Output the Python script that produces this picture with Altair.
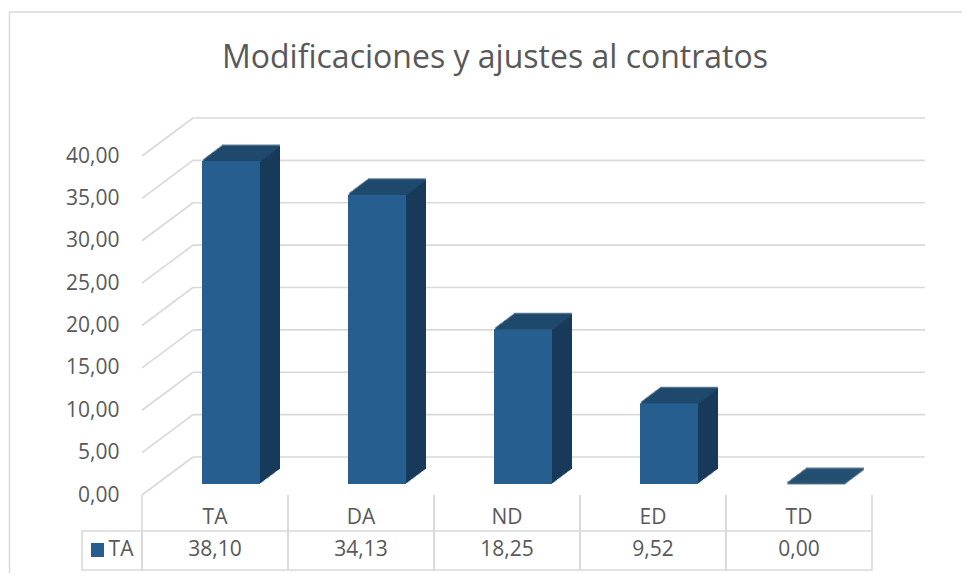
import altair as alt
import pandas as pd

TITLE = "Modificaciones y ajustes al contratos"
categories = ["TA", "DA", "ND", "ED", "TD"]
values = [38.10, 34.13, 18.25, 9.52, 0.00]
series_name = "TA"
y_ticks = [0, 5, 10, 15, 20, 25, 30, 35, 40]

FRONT = "#255E8F"
TOP = "#1F4A6E"
SIDE = "#183A5A"
GRID = "#D9D9D9"
TEXT = "#595959"
FONT = "Open Sans"

df = pd.DataFrame({"cat": categories, "value": values})
grid_df = pd.DataFrame({"tick": y_ticks})
one = pd.DataFrame({"t": [TITLE]})
leg = pd.DataFrame({"name": [series_name]})

x_scale = alt.Scale(domain=categories, range=[134, 864], paddingInner=0, paddingOuter=0)
y_scale = alt.Scale(domain=[0, 40], range=[487, 148], nice=False, zero=False)

# one identical axis definition shared by every layer using the value scale
AXIS = alt.Axis(
    values=y_ticks, labelExpr="replace(format(datum.value, '.2f'), '.', ',')",
    domain=False, ticks=False, grid=False, tickSize=0, labelPadding=0, offset=-111,
    labelFont=FONT, labelFontSize=21, labelColor=TEXT, labelOverlap=False,
    labelFlush=False, title=None,
)


def xenc(**kw):
    return alt.X("cat:N", sort=categories, scale=x_scale, axis=None, **kw)


def yval():
    return alt.Y("value:Q", scale=y_scale, axis=AXIS)


def ytick():
    return alt.Y("tick:Q", scale=y_scale, axis=AXIS)


BAR_W = 58
FX, FY = 16, -11      # bar plane offset from front plane
DX, DY = 20, -15      # bar depth
WALL_DX, WALL_DY = 51, -38
N = 16

layers = []

# outer chart border
layers.append(
    alt.Chart(one).mark_rect(fill="white", fillOpacity=0, stroke=GRID, strokeWidth=1.5).encode(
        x=alt.value(1.5), x2=alt.value(1400), y=alt.value(4), y2=alt.value(900)
    )
)

# title
layers.append(
    alt.Chart(one).mark_text(font=FONT, fontSize=32, color=TEXT,
                             align="center", baseline="alphabetic").encode(
        x=alt.value(487), y=alt.value(60), text="t:N"
    )
)

# back wall gridlines
layers.append(
    alt.Chart(grid_df).mark_rule(color=GRID, strokeWidth=1.6, yOffset=WALL_DY).encode(
        x=alt.value(134 + WALL_DX), x2=alt.value(917), y=ytick()
    )
)
# side wall diagonals
layers.append(
    alt.Chart(grid_df).mark_rule(color=GRID, strokeWidth=1.6, y2Offset=WALL_DY).encode(
        x=alt.value(134), x2=alt.value(134 + WALL_DX), y=ytick(), y2="tick:Q"
    )
)

# side faces (stacked offsets)
for k in range(N, 0, -1):
    f = k / N
    layers.append(
        alt.Chart(df).mark_bar(size=BAR_W, color=SIDE, xOffset=FX + DX * f,
                               yOffset=FY + DY * f, y2Offset=FY + DY * f).encode(
            x=xenc(), y=yval(), y2=alt.datum(0)
        )
    )
# top faces
for k in range(N, 0, -1):
    f = k / N
    layers.append(
        alt.Chart(df).mark_tick(orient="horizontal", size=BAR_W, thickness=3, color=TOP,
                                xOffset=FX + DX * f, yOffset=FY + DY * f).encode(
            x=xenc(), y=yval()
        )
    )

# front faces
layers.append(
    alt.Chart(df).mark_bar(size=BAR_W, color=FRONT, xOffset=FX, yOffset=FY, y2Offset=FY).encode(
        x=xenc(), y=yval(), y2=alt.datum(0)
    )
)

# data table
for bp in (0, 1):
    layers.append(
        alt.Chart(df).mark_rule(color=GRID, strokeWidth=1.6).encode(
            x=xenc(bandPosition=bp), y=alt.value(487), y2=alt.value(523)
        )
    )
layers.append(
    alt.Chart(df).mark_rect(fill="white", fillOpacity=0, stroke=GRID, strokeWidth=1.6).encode(
        x=xenc(), y=alt.value(523), y2=alt.value(562)
    )
)
layers.append(
    alt.Chart(leg).mark_rect(fill="white", fillOpacity=0, stroke=GRID, strokeWidth=1.6).encode(
        x=alt.value(74), x2=alt.value(134), y=alt.value(523), y2=alt.value(562)
    )
)
layers.append(
    alt.Chart(leg).mark_rect(color=FRONT).encode(
        x=alt.value(83), x2=alt.value(96), y=alt.value(535), y2=alt.value(549)
    )
)
layers.append(
    alt.Chart(leg).mark_text(font=FONT, fontSize=21, color=TEXT, align="center", baseline="middle").encode(
        x=alt.value(113), y=alt.value(542), text="name:N"
    )
)
layers.append(
    alt.Chart(df).mark_text(font=FONT, fontSize=21, color=TEXT, baseline="middle").encode(
        x=xenc(), y=alt.value(510), text="cat:N"
    )
)
layers.append(
    alt.Chart(df).transform_calculate(
        label="replace(format(datum.value, '.2f'), '.', ',')"
    ).mark_text(font=FONT, fontSize=21, color=TEXT, baseline="middle").encode(
        x=xenc(), y=alt.value(542), text="label:N"
    )
)

chart = alt.layer(*layers).properties(
    width=954, height=565, autosize=alt.AutoSizeParams(type="none"), padding=0,
    background="white",
).configure_view(strokeWidth=0)

chart.save("out.html", embed_options={"renderer": "svg", "actions": False})
